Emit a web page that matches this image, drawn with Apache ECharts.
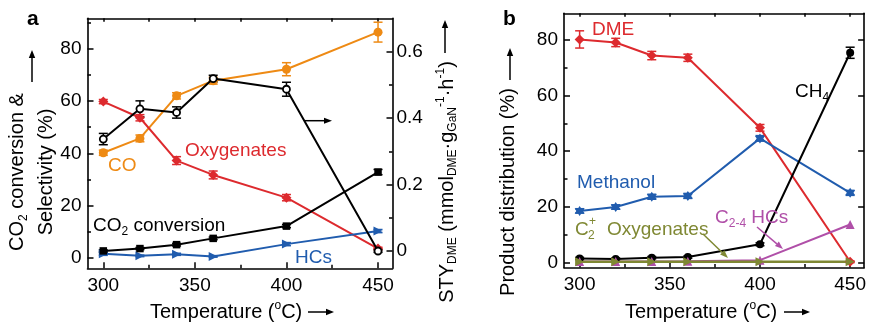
<!DOCTYPE html>
<html>
<head>
<meta charset="utf-8">
<script src="https://cdn.jsdelivr.net/npm/echarts@6/dist/echarts.min.js"></script>
<style>
  html, body { margin: 0; padding: 0; background: #fff; }
  #chart { width: 869px; height: 323px; }
</style>
</head>
<body>
<div id="chart"></div>
<script>
// Reaction temperatures (°C)
const temperatures = [300, 320, 340, 360, 400, 450];

// Panel a: CO2 conversion & selectivities (%), left axis
const coSelectivity   = [40.2, 45.7, 62.0, 67.8, 72.2, 86.4];
const coError         = [1.0, 1.3, 1.2, 1.3, 2.5, 3.8];
const oxySelectivity  = [59.8, 53.6, 37.2, 31.7, 23.0, 3.5];
const oxyError        = [0.8, 1.2, 1.5, 1.5, 1.2, 0.5];
const co2Conversion   = [2.6, 3.5, 5.0, 7.4, 12.1, 32.8];
const co2Error        = [0.4, 0.4, 0.5, 0.5, 0.6, 1.0];
const hcSelectivity   = [1.5, 0.7, 1.3, 0.5, 5.2, 10.2];
const hcError         = [0.6, 0.3, 0.4, 0.3, 0.6, 0.6];
// Panel a: DME space-time yield (mmol_DME·g_GaN^-1·h^-1), right axis
const styDme          = [0.337, 0.428, 0.417, 0.519, 0.487, 0.0];
const styError        = [0.017, 0.024, 0.017, 0.010, 0.021, 0.004];

// Panel b: product distribution (%)
const dmeShare        = [80.2, 79.1, 74.4, 73.6, 48.4, 0.2];
const dmeError        = [3.1, 1.5, 1.5, 1.3, 1.2, 0.3];
const methanolShare   = [18.5, 19.9, 23.6, 23.9, 44.6, 25.0];
const methanolError   = [0.8, 0.8, 0.9, 0.9, 1.0, 0.9];
const ch4Share        = [1.4, 1.2, 1.7, 1.9, 6.5, 75.4];
const ch4Error        = [0.4, 0.4, 0.4, 0.4, 0.5, 2.0];
const c24HcShare      = [0.3, 0.3, 0.3, 0.4, 0.8, 13.6];
const c2OxyShare      = [0.2, 0.2, 0.2, 0.2, 0.2, 0.2];

// Tick values
const tempTicks       = [300, 350, 400, 450];
const tempMinorTicks  = [325, 375, 425];
const tempTopTicks    = [300, 325, 350, 375, 400, 425, 450];
const pctTicks        = [0, 20, 40, 60, 80];
const pctMinorTicks   = [10, 30, 50, 70, 90];
const styTicks        = [0, 0.2, 0.4, 0.6];
const styMinorTicks   = [0.1, 0.3, 0.5];

const FONT = '"Liberation Sans", Arial, Helvetica, sans-serif';
const C = {
  black: '#000000',
  orange: '#ee8a14',
  red: '#dd2a2e',
  blue: '#205cae',
  magenta: '#b04fa8',
  olive: '#7f8833'
};

const TRI_RIGHT = 'path://M0,0 L10,5 L0,10 Z';
const HEXAGRAM = 'path://M0,-10 L2.9,-5 L8.7,-5 L5.8,0 L8.7,5 L2.9,5 L0,10 L-2.9,5 L-8.7,5 L-5.8,0 L-8.7,-5 L-2.9,-5 Z';

const pairs = vals => temperatures.map((t, i) => [t, vals[i]]);

function lineSeries(name, vals, color, symbol, size, xi, yi, extra) {
  return Object.assign({
    name, type: 'line', xAxisIndex: xi, yAxisIndex: yi,
    data: pairs(vals), symbol, symbolSize: size, showAllSymbol: true,
    lineStyle: { color, width: 2 }, itemStyle: { color },
    z: 3, animation: false, silent: true, clip: false
  }, extra || {});
}

function errorSeries(vals, errs, color, xi, yi) {
  return {
    type: 'custom', xAxisIndex: xi, yAxisIndex: yi, z: 2,
    animation: false, silent: true, clip: false,
    data: temperatures.map((t, i) => [t, vals[i], errs[i]]),
    encode: { x: 0, y: 1 },
    renderItem: (params, api) => {
      const x = api.value(0), y = api.value(1), e = api.value(2);
      const hi = api.coord([x, y + e]);
      const lo = api.coord([x, y - e]);
      const w = 4.5;
      const st = { stroke: color, lineWidth: 1.5 };
      return {
        type: 'group', children: [
          { type: 'line', shape: { x1: hi[0], y1: hi[1], x2: lo[0], y2: lo[1] }, style: st },
          { type: 'line', shape: { x1: hi[0] - w, y1: hi[1], x2: hi[0] + w, y2: hi[1] }, style: st },
          { type: 'line', shape: { x1: lo[0] - w, y1: lo[1], x2: lo[0] + w, y2: lo[1] }, style: st }
        ]
      };
    }
  };
}

function valueAxis(o) {
  return {
    type: 'value', gridIndex: o.grid, position: o.pos, min: o.min, max: o.max, offset: 0,
    axisLine: { show: !!o.line, onZero: false, lineStyle: { color: '#000', width: 1.6 } },
    axisTick: { show: true, inside: true, length: o.tickLen, customValues: o.ticks,
                lineStyle: { color: '#000', width: 1.5 } },
    axisLabel: o.labels ? { show: true, customValues: o.labels, color: '#000',
                fontFamily: FONT, fontSize: 19, margin: o.margin } : { show: false },
    splitLine: { show: false }, minorTick: { show: false }
  };
}

const sub = { fontSize: 12, lineHeight: 12, verticalAlign: 'bottom', fontFamily: FONT };
const sup = { fontSize: 12, lineHeight: 12, verticalAlign: 'top', fontFamily: FONT };
const main = size => ({ fontSize: size, lineHeight: 24, fontFamily: FONT });

function label(text, x, y, color, opts) {
  opts = opts || {};
  return {
    type: 'text', x, y, rotation: opts.rotation || 0, silent: true, z: 10,
    style: {
      text, fill: color, font: (opts.bold ? 'bold ' : '') + (opts.size || 19) + 'px ' + FONT,
      textAlign: opts.align || 'left', textVerticalAlign: 'middle',
      rich: {
        n: Object.assign({ fill: color }, main(opts.size || 19)),
        b: Object.assign({ fill: color }, sub),
        p: Object.assign({ fill: color }, sup)
      }
    }
  };
}

function arrow(x1, y1, x2, y2, color, headLen, headHalf) {
  headLen = headLen || 8; headHalf = headHalf || 3.2;
  const dx = x2 - x1, dy = y2 - y1, L = Math.hypot(dx, dy);
  const ux = dx / L, uy = dy / L, nx = -uy, ny = ux;
  const bx = x2 - ux * headLen, by = y2 - uy * headLen;
  return [
    { type: 'line', silent: true, z: 10, shape: { x1, y1, x2: bx, y2: by },
      style: { stroke: color, lineWidth: 1.5 } },
    { type: 'polygon', silent: true, z: 10,
      shape: { points: [[x2, y2], [bx + nx * headHalf, by + ny * headHalf], [bx - nx * headHalf, by - ny * headHalf]] },
      style: { fill: color } }
  ];
}

const option = {
  animation: false,
  backgroundColor: '#fff',
  grid: [
    { left: 87.5, top: 18.3, width: 305, height: 250, containLabel: false },
    { left: 564, top: 13.3, width: 307, height: 254.2, containLabel: false }
  ],
  xAxis: [
    valueAxis({ grid: 0, pos: 'bottom', min: 291.37, max: 457.9, line: true, tickLen: 6, ticks: tempTicks, labels: tempTicks, margin: 8 }),
    valueAxis({ grid: 0, pos: 'bottom', min: 291.37, max: 457.9, line: false, tickLen: 3.5, ticks: tempMinorTicks }),
    valueAxis({ grid: 0, pos: 'top', min: 291.37, max: 457.9, line: true, tickLen: 3.5, ticks: tempTopTicks }),
    valueAxis({ grid: 1, pos: 'bottom', min: 291.33, max: 457.75, line: true, tickLen: 6, ticks: tempTicks, labels: tempTicks, margin: 8 }),
    valueAxis({ grid: 1, pos: 'bottom', min: 291.33, max: 457.75, line: false, tickLen: 3.5, ticks: tempMinorTicks }),
    valueAxis({ grid: 1, pos: 'top', min: 291.33, max: 457.75, line: true, tickLen: 3.5, ticks: tempTopTicks })
  ],
  yAxis: [
    valueAxis({ grid: 0, pos: 'left', min: -4.06, max: 91.7, line: true, tickLen: 6, ticks: pctTicks, labels: pctTicks, margin: 6 }),
    valueAxis({ grid: 0, pos: 'left', min: -4.06, max: 91.7, line: false, tickLen: 3.5, ticks: pctMinorTicks }),
    valueAxis({ grid: 0, pos: 'right', min: -0.052, max: 0.7005, line: true, tickLen: 6, ticks: styTicks, labels: styTicks, margin: 4 }),
    valueAxis({ grid: 0, pos: 'right', min: -0.052, max: 0.7005, line: false, tickLen: 3.5, ticks: styMinorTicks }),
    valueAxis({ grid: 1, pos: 'left', min: -1.85, max: 89.6, line: true, tickLen: 6, ticks: pctTicks, labels: pctTicks, margin: 6 }),
    valueAxis({ grid: 1, pos: 'left', min: -1.85, max: 89.6, line: false, tickLen: 3.5, ticks: pctMinorTicks }),
    valueAxis({ grid: 1, pos: 'right', min: -1.85, max: 89.6, line: true, tickLen: 6, ticks: pctTicks })
  ],
  series: [
    // Panel a
    errorSeries(coSelectivity, coError, C.orange, 0, 0),
    lineSeries('CO', coSelectivity, C.orange, 'circle', 9, 0, 0),
    errorSeries(oxySelectivity, oxyError, C.red, 0, 0),
    lineSeries('Oxygenates', oxySelectivity, C.red, 'diamond', 10, 0, 0),
    errorSeries(hcSelectivity, hcError, C.blue, 0, 0),
    lineSeries('HCs', hcSelectivity, C.blue, TRI_RIGHT, 9, 0, 0),
    errorSeries(co2Conversion, co2Error, C.black, 0, 0),
    lineSeries('CO2 conversion', co2Conversion, C.black, 'rect', 7.5, 0, 0),
    errorSeries(styDme, styError, C.black, 0, 2),
    lineSeries('STY DME', styDme, C.black, 'circle', 7, 0, 2, {
      itemStyle: { color: '#fff', borderColor: '#000', borderWidth: 1.8 }, z: 4
    }),
    // Panel b
    errorSeries(dmeShare, dmeError, C.red, 3, 4),
    lineSeries('DME', dmeShare, C.red, 'diamond', 10, 3, 4),
    errorSeries(methanolShare, methanolError, C.blue, 3, 4),
    lineSeries('Methanol', methanolShare, C.blue, HEXAGRAM, 10, 3, 4),
    errorSeries(ch4Share, ch4Error, C.black, 3, 4),
    lineSeries('CH4', ch4Share, C.black, 'circle', 8, 3, 4),
    lineSeries('C2-4 HCs', c24HcShare, C.magenta, 'triangle', 9, 3, 4),
    lineSeries('C2+ Oxygenates', c2OxyShare, C.olive, TRI_RIGHT, 9, 3, 4, {
      lineStyle: { color: C.olive, width: 2.5 }
    })
  ],
  graphic: [
    // panel letters
    label('a', 27, 19, '#000', { bold: true, size: 21 }),
    label('b', 503, 19, '#000', { bold: true, size: 21 }),

    // panel a axis titles
    label('{n|CO}{b|2}{n| conversion &}', 17.5, 172, '#000', { rotation: Math.PI / 2, align: 'center', size: 20 }),
    label('{n|Selectivity (%)}', 46, 172, '#000', { rotation: Math.PI / 2, align: 'center', size: 20 }),
    ...arrow(32, 82, 32, 50, '#000'),
    label('{n|STY}{b|DME}{n| (mmol}{b|DME}{n|·g}{b|GaN}{p|-1}{n|·h}{p|-1}{n|)}', 447, 182, '#000', { rotation: Math.PI / 2, align: 'center', size: 20 }),
    ...arrow(445, 53, 445, 20, '#000'),
    label('{n|Temperature (}{p|o}{n|C)}', 150, 312, '#000', { size: 20 }),
    ...arrow(308, 312, 334, 312, '#000'),

    // panel b axis titles
    label('{n|Product distribution (%)}', 508, 192, '#000', { rotation: Math.PI / 2, align: 'center', size: 20 }),
    ...arrow(510, 80, 510, 48, '#000'),
    label('{n|Temperature (}{p|o}{n|C)}', 625, 312, '#000', { size: 20 }),
    ...arrow(784, 312, 810, 312, '#000'),

    // panel a series labels
    label('{n|Oxygenates}', 185, 151, C.red),
    label('{n|CO}', 108, 166, C.orange),
    label('{n|CO}{b|2}{n| conversion}', 93, 226, '#000'),
    label('{n|HCs}', 295, 258, C.blue),
    ...arrow(305, 120.7, 332, 120.7, '#000', 8, 3),

    // panel b series labels
    label('{n|DME}', 592, 30, C.red),
    label('{n|CH}{b|4}', 795, 92, '#000'),
    label('{n|Methanol}', 577, 183, C.blue),
    label('{n|C}', 575, 230, C.olive),
    label('{b|2}', 588, 236, C.olive),
    label('{p|+}', 589, 222, C.olive),
    label('{n|Oxygenates}', 607, 230, C.olive),
    label('{n|C}{b|2-4}{n| HCs}', 715, 218, C.magenta),
    ...arrow(703, 234, 728, 258, C.olive, 8, 3),
    ...arrow(757, 227, 783, 249, C.magenta, 8, 3)
  ]
};

const chart = echarts.init(document.getElementById('chart'), null, { renderer: 'canvas' });
chart.setOption(option);
</script>
</body>
</html>
